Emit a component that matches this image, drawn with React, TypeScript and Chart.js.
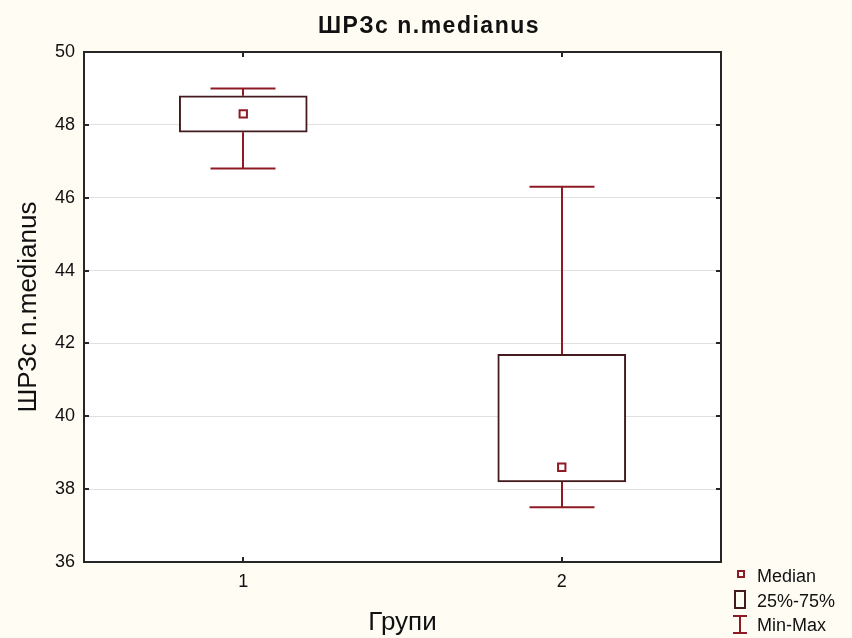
import React, { useEffect, useRef } from 'react';
import { Chart, registerables } from 'chart.js';

Chart.register(...registerables);

const categories = ['1', '2'];
const minValues = [46.8, 37.5];
const q1Values = [47.8, 38.2];
const medianValues = [48.3, 38.6];
const q3Values = [48.8, 41.7];
const maxValues = [49.0, 46.3];
const yMin = 36;
const yMax = 50;
const yStep = 2;
const titleText = 'ШРЗс n.medianus';
const yTitleText = 'ШРЗс n.medianus';
const xTitleText = 'Групи';
const legendLabels = ['Median', '25%-75%', 'Min-Max'];

const CREAM = '#fffcf4';
const BOX = '#431a1d';
const WHISK = '#8e1b24';
const FRAME = '#262626';
const FONT = "'Liberation Sans', Arial, sans-serif";

const bgPlugin = {
  id: 'bgPlugin',
  beforeDraw(chart: any) {
    const { ctx, chartArea: a, width, height } = chart;
    ctx.save();
    ctx.fillStyle = CREAM;
    ctx.fillRect(0, 0, width, height);
    ctx.fillStyle = '#ffffff';
    ctx.fillRect(a.left, a.top, a.right - a.left, a.bottom - a.top);
    ctx.restore();
  },
};

const whiskerPlugin = {
  id: 'whiskerPlugin',
  beforeDatasetsDraw(chart: any) {
    const { ctx } = chart;
    const xs = chart.scales.x;
    const ys = chart.scales.y;
    ctx.save();
    ctx.strokeStyle = WHISK;
    ctx.lineWidth = 2;
    categories.forEach((_, i) => {
      const cx = Math.round(xs.getPixelForValue(i));
      const yMaxP = ys.getPixelForValue(maxValues[i]);
      const yMinP = ys.getPixelForValue(minValues[i]);
      const yQ3 = ys.getPixelForValue(q3Values[i]);
      const yQ1 = ys.getPixelForValue(q1Values[i]);
      const half = 32.5;
      ctx.beginPath();
      ctx.moveTo(cx, yMaxP);
      ctx.lineTo(cx, yQ3);
      ctx.moveTo(cx, yQ1);
      ctx.lineTo(cx, yMinP);
      ctx.moveTo(cx - half, yMaxP);
      ctx.lineTo(cx + half, yMaxP);
      ctx.moveTo(cx - half, yMinP);
      ctx.lineTo(cx + half, yMinP);
      ctx.stroke();
    });
    ctx.restore();
  },
};

const framePlugin = {
  id: 'framePlugin',
  afterDatasetsDraw(chart: any) {
    const { ctx, chartArea: a } = chart;
    const xs = chart.scales.x;
    const ys = chart.scales.y;
    ctx.save();
    ctx.strokeStyle = FRAME;
    ctx.lineWidth = 2;
    ctx.strokeRect(a.left, a.top, a.right - a.left, a.bottom - a.top);
    ctx.beginPath();
    ys.ticks.forEach((t: any) => {
      const py = Math.round(ys.getPixelForValue(t.value));
      ctx.moveTo(a.left, py);
      ctx.lineTo(a.left + 5, py);
      ctx.moveTo(a.right - 5, py);
      ctx.lineTo(a.right, py);
    });
    categories.forEach((_, i) => {
      const px = Math.round(xs.getPixelForValue(i));
      ctx.moveTo(px, a.top);
      ctx.lineTo(px, a.top + 5);
      ctx.moveTo(px, a.bottom - 5);
      ctx.lineTo(px, a.bottom);
    });
    ctx.stroke();
    ctx.restore();
  },
  afterDraw(chart: any) {
    const { ctx } = chart;
    ctx.save();
    // title
    ctx.fillStyle = '#111111';
    ctx.font = `bold 23px ${FONT}`;
    (ctx as any).letterSpacing = '1.5px';
    ctx.textAlign = 'center';
    ctx.textBaseline = 'alphabetic';
    ctx.fillText(titleText, 429, 33);
    (ctx as any).letterSpacing = '0px';

    // legend
    ctx.lineWidth = 2;
    ctx.strokeStyle = WHISK;
    ctx.fillStyle = '#ffffff';
    ctx.fillRect(738, 571, 6, 6);
    ctx.strokeRect(738, 571, 6, 6);
    ctx.strokeStyle = BOX;
    ctx.strokeRect(735, 591, 10, 17);
    ctx.strokeStyle = WHISK;
    ctx.beginPath();
    ctx.moveTo(740, 616);
    ctx.lineTo(740, 633);
    ctx.moveTo(733, 616);
    ctx.lineTo(747, 616);
    ctx.moveTo(733, 633);
    ctx.lineTo(747, 633);
    ctx.stroke();

    ctx.fillStyle = '#111111';
    ctx.font = `18px ${FONT}`;
    ctx.textAlign = 'left';
    ctx.textBaseline = 'alphabetic';
    const baselines = [582, 607, 631];
    legendLabels.forEach((lbl, i) => ctx.fillText(lbl, 757, baselines[i]));
    ctx.restore();
  },
};

export default function App() {
  const ref = useRef<HTMLCanvasElement | null>(null);

  useEffect(() => {
    document.body.style.margin = '0';
    document.body.style.background = CREAM;
    const canvas = ref.current;
    if (!canvas) return;
    const chart = new Chart(canvas, {
      type: 'bar',
      data: {
        labels: categories,
        datasets: [
          {
            type: 'line',
            label: 'Median',
            data: medianValues,
            showLine: false,
            pointStyle: 'rect',
            pointRadius: 5.2,
            pointHoverRadius: 5.2,
            pointBorderWidth: 2,
            pointBorderColor: WHISK,
            pointBackgroundColor: '#ffffff',
            borderColor: WHISK,
            backgroundColor: '#ffffff',
            order: 0,
          } as any,
          {
            type: 'bar',
            label: '25%-75%',
            data: q1Values.map((q, i) => [q, q3Values[i]]) as any,
            backgroundColor: '#ffffff',
            borderColor: BOX,
            borderWidth: 2,
            borderSkipped: false,
            barThickness: 128,
            grouped: false,
            order: 1,
          } as any,
        ],
      },
      options: {
        responsive: false,
        animation: false,
        events: [],
        layout: { padding: { top: 52, right: 131, left: 0, bottom: 0 } },
        plugins: {
          legend: { display: false },
          tooltip: { enabled: false },
          title: { display: false },
        },
        scales: {
          x: {
            type: 'category',
            offset: true,
            grid: { display: false, drawTicks: false },
            border: { display: false },
            ticks: {
              color: '#111111',
              font: { family: FONT, size: 18 },
              padding: 9,
            },
            title: {
              display: true,
              text: xTitleText,
              color: '#111111',
              font: { family: FONT, size: 26 },
              padding: { top: 0, bottom: 0 },
            },
            afterFit: (s: any) => {
              s.height = 76;
            },
          },
          y: {
            type: 'linear',
            min: yMin,
            max: yMax,
            grid: { color: '#e0e0e0', lineWidth: 1, drawTicks: false },
            border: { display: false },
            ticks: {
              stepSize: yStep,
              color: '#111111',
              font: { family: FONT, size: 18 },
              padding: 9,
            },
            title: {
              display: true,
              text: yTitleText,
              color: '#111111',
              font: { family: FONT, size: 26 },
              padding: { top: 13, bottom: 0 },
            },
            afterFit: (s: any) => {
              s.width = 84;
            },
          },
        },
      },
      plugins: [bgPlugin, whiskerPlugin, framePlugin],
    });
    return () => chart.destroy();
  }, []);

  return (
    <canvas
      ref={ref}
      width={852}
      height={638}
      style={{ display: 'block', width: 852, height: 638 }}
    />
  );
}
